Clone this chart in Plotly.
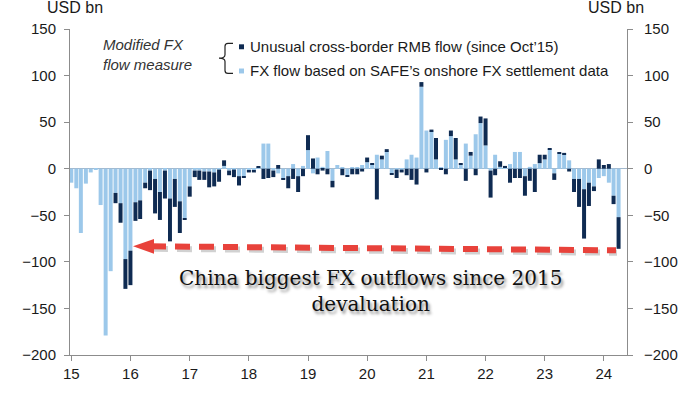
import plotly.graph_objects as go
import pandas as pd

# ---------------- data (USD bn, monthly Jan-2015 .. Apr-2024) ----------------
months = pd.date_range("2015-01-01", "2024-04-01", freq="MS")

safe_fx_flow = [
    # 2015
    -15, -21, -69, -16, -4, -1, -39, -179, -110, -26, -37, -97,
    # 2016
    -88, -36, -34, -15, -2, -11, -25, -2, -32, -11, -35, -53,
    # 2017
    -19, -2, -2, -3, -3, -4, -1, 3, -2, -1, -8, -8,
    # 2018
    -2, -2, 1, 27, 27, -2, -5, -11, -8, 5, -8, 3,
    # 2019
    20, -5, 12, 2, 19, -13, 4, 1, -7, 1, 1, 4,
    # 2020
    7, 5, 15, 10, 19, -5, -1, -1, 10, 15, 12, 88,
    # 2021
    41, 40, 10, 1, 31, 35, 10, 4, 27, 14, 37, 49,
    # 2022
    25, -2, 15, 2, 1, 5, 18, 18, -8, 2, 5, 6,
    # 2023
    10, 21, -5, 16, 15, 9, -11, -11, -22, -15, -19, -10,
    # 2024
    -8, -15, -29, -52,
]

unusual_rmb_flow = [
    # 2015 (measure starts Oct-15)
    None, None, None, None, None, None, None, None, None, -11, -21, -32,
    # 2016
    -37, -20, -20, -6, -21, -37, -30, -30, -46, -30, -34, -1,
    # 2017
    -11, -7, -10, -9, -17, -15, -13, 6, -5, -8, -10, -1,
    # 2018
    -2, -2, 1, -11, -10, -7, 4, -1, -13, -11, -17, -8,
    # 2019
    16, 11, -6, -2, -6, -7, 0, -7, -1, -6, -6, -3,
    # 2020
    5, 1, -33, 4, 2, -1, -9, -3, -7, -12, -17, 5,
    # 2021
    -4, 2, 23, -1, -6, 6, 23, 2, -13, 4, -7, 7,
    # 2022
    29, -29, -7, 6, 2, -15, -10, -10, -21, -13, -25, 9,
    # 2023
    5, 1, -7, 1, 2, -3, -14, -30, -53, -25, -5, 10,
    # 2024
    4, 5, -9, -34,
]

y_ticks = [150, 100, 50, 0, -50, -100, -150, -200]

legend_dark = "Unusual cross-border RMB flow (since Oct\u201915)"
legend_light = "FX flow based on SAFE\u2019s onshore FX settlement data"
measure_label = "<i>Modified FX<br>flow measure</i>"
callout = "China biggest FX outflows since 2015<br>devaluation"

# ---------------- styling ----------------
DARK = "#0f2b52"
LIGHT = "#9cc8ea"
RED = "#e8423b"
AXIS = "#8c8c8c"
TXT = "#1a1a1a"
SANS = "Liberation Sans, Arial, sans-serif"

W, H = 700, 394
L, R, T, B = 70, 627, 29, 359


def px(x):
    return (x - L) / (R - L)


def py(y):
    return (B - y) / (B - T)


fig = go.Figure()
fig.add_trace(go.Bar(x=months, y=safe_fx_flow, name=legend_light,
                     marker=dict(color=LIGHT, line=dict(width=0)),
                     showlegend=False))
fig.add_trace(go.Bar(x=months, y=unusual_rmb_flow, name=legend_dark,
                     marker=dict(color=DARK, line=dict(width=0)),
                     showlegend=False))
# invisible trace so the mirrored right axis is drawn
fig.add_trace(go.Scatter(x=months, y=safe_fx_flow, mode="none", yaxis="y2",
                         showlegend=False, hoverinfo="skip"))

axis_font = dict(family=SANS, size=15, color=TXT)

fig.update_layout(
    width=W, height=H,
    margin=dict(l=L, r=W - R, t=T, b=H - B, pad=0),
    paper_bgcolor="white", plot_bgcolor="white",
    barmode="relative", bargap=0.12,
    xaxis=dict(
        type="date", range=["2014-12-24", "2024-05-23"],
        tick0="2015-01-01", dtick="M12", tickformat="%y",
        showgrid=False, zeroline=False,
        showline=True, linecolor=AXIS, linewidth=1,
        ticks="outside", ticklen=5, tickcolor=AXIS,
        tickfont=axis_font,
    ),
    yaxis=dict(
        range=[-200, 150], tickvals=y_ticks,
        showgrid=False, zeroline=True, zerolinecolor="#a3b8cc", zerolinewidth=1,
        showline=True, linecolor=AXIS, linewidth=1,
        ticks="outside", ticklen=5, tickcolor=AXIS,
        tickfont=axis_font, ticklabelstandoff=5,
    ),
    yaxis2=dict(
        range=[-200, 150], tickvals=y_ticks, overlaying="y", side="right",
        anchor="x", showgrid=False, zeroline=False,
        showline=True, linecolor=AXIS, linewidth=1,
        ticks="outside", ticklen=5, tickcolor=AXIS,
        tickfont=axis_font, ticklabelstandoff=8,
    ),
)

annotations = [
    dict(text="USD bn", x=px(45), y=py(7), xanchor="left", yanchor="middle",
         font=dict(family=SANS, size=16, color=TXT)),
    dict(text="USD bn", x=px(586), y=py(7), xanchor="left", yanchor="middle",
         font=dict(family=SANS, size=16, color=TXT)),
    dict(text=measure_label, x=px(101), y=py(55), xanchor="left", yanchor="middle",
         align="left", font=dict(family=SANS, size=15, color="#333333")),
    dict(text=legend_dark, x=px(248), y=py(47), xanchor="left", yanchor="middle",
         font=dict(family=SANS, size=15, color=TXT)),
    dict(text=legend_light, x=px(248), y=py(71.5), xanchor="left", yanchor="middle",
         font=dict(family=SANS, size=15, color=TXT)),
    dict(text=callout, x=px(370), y=py(294), xanchor="center", yanchor="middle",
         align="center",
         font=dict(family="DejaVu Serif, Liberation Serif, serif", size=20,
                   color="#111111", shadow="2px 3px 3px rgba(0,0,0,0.45)")),
]
for a in annotations:
    a.update(xref="paper", yref="paper", showarrow=False)
fig.update_layout(annotations=annotations)

shapes = []
# legend swatches
shapes.append(dict(type="rect", xref="paper", yref="paper",
                   x0=px(239), x1=px(244), y0=py(49.5), y1=py(44.5),
                   fillcolor=DARK, line=dict(width=0)))
shapes.append(dict(type="rect", xref="paper", yref="paper",
                   x0=px(239), x1=px(244), y0=py(74), y1=py(69),
                   fillcolor=LIGHT, line=dict(width=0)))
# curly brace
brace = (f"M {px(233)},{py(43.5)} L {px(228)},{py(43.5)} "
         f"Q {px(225)},{py(43.5)} {px(225)},{py(46.5)} L {px(225)},{py(55)} "
         f"Q {px(225)},{py(58.5)} {px(219)},{py(58.5)} "
         f"Q {px(225)},{py(58.5)} {px(225)},{py(62)} L {px(225)},{py(71)} "
         f"Q {px(225)},{py(74)} {px(228)},{py(74)} L {px(233)},{py(74)}")
shapes.append(dict(type="path", xref="paper", yref="paper", path=brace,
                   line=dict(color="#222222", width=1.2)))
# red dashed arrow (shadow + line + head)
shapes.append(dict(type="line", xref="paper", yref="paper",
                   x0=px(153), y0=py(251.5), x1=px(617), y1=py(255.5),
                   line=dict(color="rgba(0,0,0,0.18)", width=6, dash="15px,9px")))
shapes.append(dict(type="line", xref="paper", yref="paper",
                   x0=px(151), y0=py(249), x1=px(616), y1=py(253),
                   line=dict(color=RED, width=6, dash="15px,9px")))
head = (f"M {px(133)},{py(249)} L {px(154)},{py(241.5)} "
        f"L {px(154)},{py(256.5)} Z")
shapes.append(dict(type="path", xref="paper", yref="paper", path=head,
                   fillcolor=RED, line=dict(width=0)))
fig.update_layout(shapes=shapes)

fig.write_html("out.html",
               config={"displayModeBar": False},
               post_script="document.body.style.margin='0';"
                           "document.body.style.overflow='hidden';")
